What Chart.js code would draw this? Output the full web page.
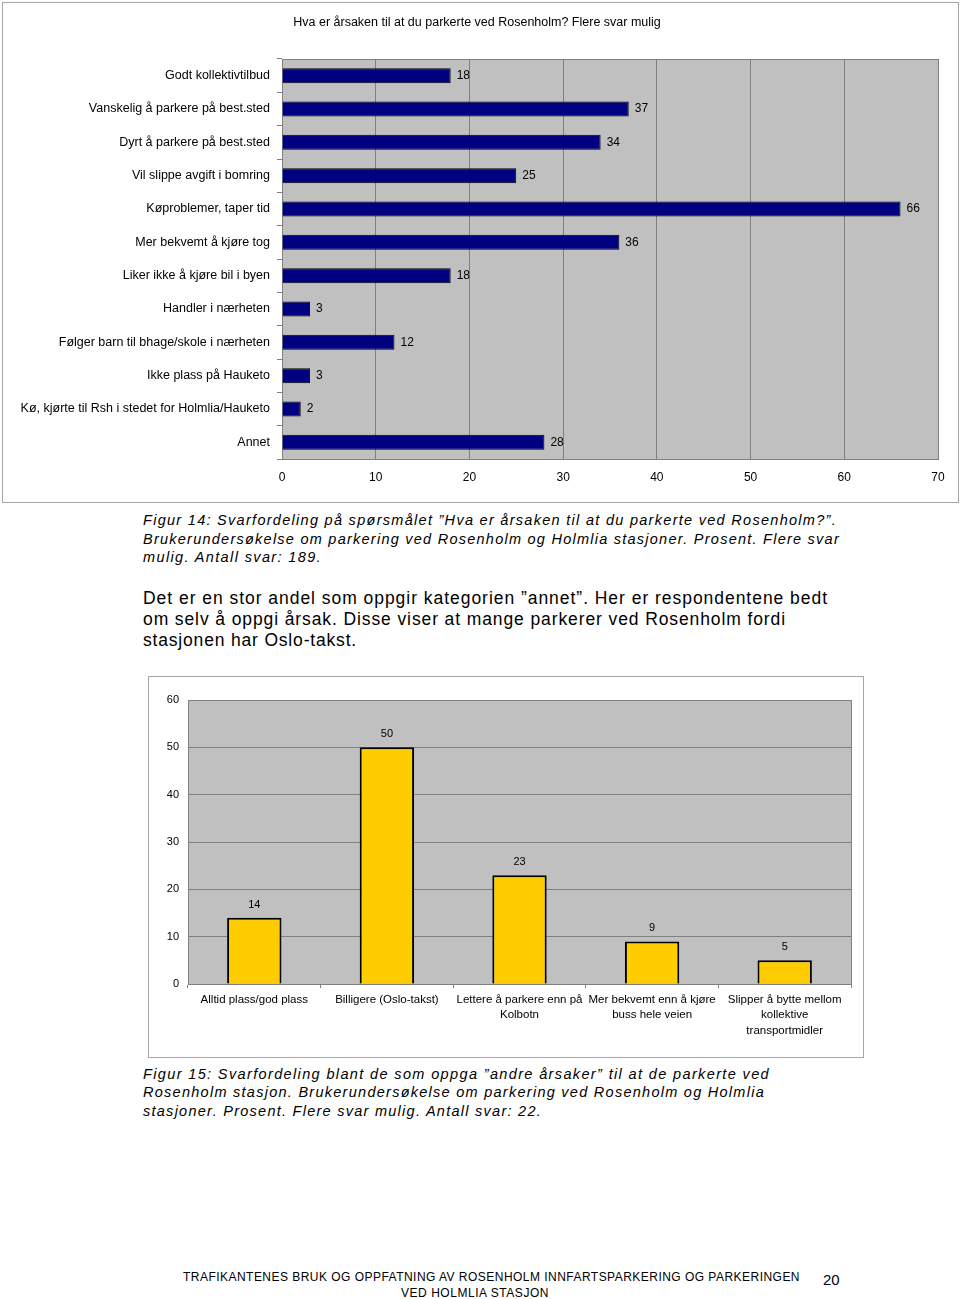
<!DOCTYPE html>
<html>
<head>
<meta charset="utf-8">
<script src="https://cdn.jsdelivr.net/npm/chart.js@4"></script>
<style>
  body { margin: 0; background: #fff; color: #000; font-family: "Liberation Sans", Arial, sans-serif; }
  #page { position: relative; width: 960px; height: 1299px; overflow: hidden; }
  .box { position: absolute; border: 1px solid #a6a6a6; box-sizing: border-box; }
  canvas { position: absolute; }
  .line { position: absolute; left: 143px; white-space: nowrap; }
  .cap { font-style: italic; font-size: 14.5px; line-height: 18px; }
  .par { font-size: 17.5px; line-height: 20px; }
  .foot { font-size: 12px; line-height: 14px; }
</style>
</head>
<body>
<div id="page">
  <div class="box" style="left:2px; top:2px; width:957px; height:501px;"></div>
  <canvas id="reasonsChart" width="960" height="505" style="left:0; top:0;"></canvas>

  <div class="line cap" style="top:511px;" data-w="694">Figur 14: Svarfordeling på spørsmålet ”Hva er årsaken til at du parkerte ved Rosenholm?”.</div>
  <div class="line cap" style="top:530px;" data-w="697">Brukerundersøkelse om parkering ved Rosenholm og Holmlia stasjoner. Prosent. Flere svar</div>
  <div class="line cap" style="top:548px;" data-w="179">mulig. Antall svar: 189.</div>

  <div class="line par" style="top:588px;" data-w="685">Det er en stor andel som oppgir kategorien ”annet”. Her er respondentene bedt</div>
  <div class="line par" style="top:609px;" data-w="643">om selv å oppgi årsak. Disse viser at mange parkerer ved Rosenholm fordi</div>
  <div class="line par" style="top:630px;" data-w="214">stasjonen har Oslo-takst.</div>

  <div class="box" style="left:148px; top:676px; width:716px; height:382px;"></div>
  <canvas id="otherChart" width="713" height="379" style="left:149px; top:677px;"></canvas>

  <div class="line cap" style="top:1065px;" data-w="627">Figur 15: Svarfordeling blant de som oppga ”andre årsaker” til at de parkerte ved</div>
  <div class="line cap" style="top:1083px;" data-w="622">Rosenholm stasjon. Brukerundersøkelse om parkering ved Rosenholm og Holmlia</div>
  <div class="line cap" style="top:1102px;" data-w="399">stasjoner. Prosent. Flere svar mulig. Antall svar: 22.</div>

  <div class="line foot" style="left:183px; top:1270px;" data-w="617">TRAFIKANTENES BRUK OG OPPFATNING AV ROSENHOLM INNFARTSPARKERING OG PARKERINGEN</div>
  <div class="line foot" style="left:401px; top:1286px;" data-w="148">VED HOLMLIA STASJON</div>
  <div class="line" style="left:823px; top:1271px; font-size:15px; line-height:18px;">20</div>
</div>

<script>
const title1 = 'Hva er årsaken til at du parkerte ved Rosenholm? Flere svar mulig';

const reasons = [
    'Godt kollektivtilbud',
    'Vanskelig å parkere på best.sted',
    'Dyrt å parkere på best.sted',
    'Vil slippe avgift i bomring',
    'Køproblemer, taper tid',
    'Mer bekvemt å kjøre tog',
    'Liker ikke å kjøre bil i byen',
    'Handler i nærheten',
    'Følger barn til bhage/skole i nærheten',
    'Ikke plass på Hauketo',
    'Kø, kjørte til Rsh i stedet for Holmlia/Hauketo',
    'Annet'
];
const reasonValues = [18, 37, 34, 25, 66, 36, 18, 3, 12, 3, 2, 28];

const otherReasons = [
    'Alltid plass/god plass',
    'Billigere (Oslo-takst)',
    ['Lettere å parkere enn på', 'Kolbotn'],
    ['Mer bekvemt enn å kjøre', 'buss hele veien'],
    ['Slipper å bytte mellom', 'kollektive', 'transportmidler']
];
const otherValues = [14, 50, 23, 9, 5];

const FONT = '"Liberation Sans", Arial, sans-serif';
Chart.defaults.font.family = FONT;
Chart.defaults.color = '#000';

// grey plot area with a thin frame, like the old spreadsheet charts
const plotArea = {
    id: 'plotArea',
    beforeDraw(chart) {
        const { ctx, chartArea: a } = chart;
        ctx.save();
        ctx.fillStyle = '#c0c0c0';
        ctx.fillRect(a.left, a.top, a.width, a.height);
        ctx.restore();
    },
    beforeDatasetsDraw(chart) {
        const { ctx, chartArea: a } = chart;
        ctx.save();
        ctx.strokeStyle = '#808080';
        ctx.lineWidth = 1;
        ctx.strokeRect(Math.round(a.left) + 0.5, Math.round(a.top) + 0.5, Math.round(a.width), Math.round(a.height));
        ctx.restore();
    }
};

// value printed next to / above each bar
const barLabels = {
    id: 'barLabels',
    afterDatasetsDraw(chart, args, opts) {
        const ctx = chart.ctx;
        const values = chart.data.datasets[0].data;
        ctx.save();
        ctx.font = opts.size + 'px ' + FONT;
        ctx.fillStyle = '#000';
        ctx.textBaseline = 'middle';
        chart.getDatasetMeta(0).data.forEach((bar, i) => {
            if (chart.options.indexAxis === 'y') {
                ctx.textAlign = 'left';
                ctx.fillText(values[i], bar.x + 6, bar.y);
            } else {
                ctx.textAlign = 'center';
                ctx.fillText(values[i], bar.x, bar.y - 13);
            }
        });
        ctx.restore();
    }
};

new Chart(document.getElementById('reasonsChart'), {
    type: 'bar',
    data: {
        labels: reasons,
        datasets: [{
            data: reasonValues,
            backgroundColor: '#000080',
            borderColor: '#000000',
            borderWidth: 1,
            barPercentage: 0.45,
            categoryPercentage: 1
        }]
    },
    options: {
        indexAxis: 'y',
        responsive: false,
        animation: false,
        // left padding pulls the title back towards the page centre
        layout: { padding: { top: 0, right: 22, bottom: 0, left: 16 } },
        plugins: {
            legend: { display: false },
            tooltip: { enabled: false },
            title: {
                display: true,
                text: title1,
                color: '#000',
                font: { size: 12.5, weight: 'normal' },
                padding: { top: 15, bottom: 29 }
            },
            barLabels: { size: 12 }
        },
        scales: {
            x: {
                min: 0,
                max: 70,
                ticks: { stepSize: 10, padding: 11, font: { size: 12 } },
                grid: { color: '#808080', drawTicks: false },
                border: { color: '#808080' },
                afterFit: s => { s.height = 46; }
            },
            y: {
                ticks: { padding: 7, font: { size: 12.5 } },
                grid: { drawOnChartArea: false, tickLength: 5, color: '#808080' },
                border: { color: '#808080' },
                afterFit: s => { s.width = 266; }
            }
        }
    },
    plugins: [plotArea, barLabels]
});

new Chart(document.getElementById('otherChart'), {
    type: 'bar',
    data: {
        labels: otherReasons,
        datasets: [{
            data: otherValues,
            backgroundColor: '#ffcc00',
            borderColor: '#000000',
            borderWidth: 2,
            barPercentage: 0.41,
            categoryPercentage: 1
        }]
    },
    options: {
        responsive: false,
        animation: false,
        layout: { padding: { top: 23, right: 11, bottom: 0, left: 0 } },
        plugins: {
            legend: { display: false },
            tooltip: { enabled: false },
            barLabels: { size: 11 }
        },
        scales: {
            x: {
                ticks: { padding: 4, maxRotation: 0, autoSkip: false, font: { size: 11.5, lineHeight: 1.35 } },
                grid: { drawOnChartArea: false, offset: true, tickLength: 4, color: '#808080' },
                border: { color: '#808080' },
                afterFit: s => { s.height = 72; }
            },
            y: {
                min: 0,
                max: 60,
                ticks: { stepSize: 10, padding: 9, font: { size: 11 } },
                grid: { color: '#808080', drawTicks: false },
                border: { color: '#808080' },
                afterFit: s => { s.width = 39; }
            }
        }
    },
    plugins: [plotArea, barLabels]
});

// stretch each text line to the width it has on the printed page
document.querySelectorAll('[data-w]').forEach(el => {
    const target = +el.dataset.w;
    const natural = el.getBoundingClientRect().width;
    el.style.letterSpacing = ((target - natural) / el.textContent.length) + 'px';
});
</script>
</body>
</html>
